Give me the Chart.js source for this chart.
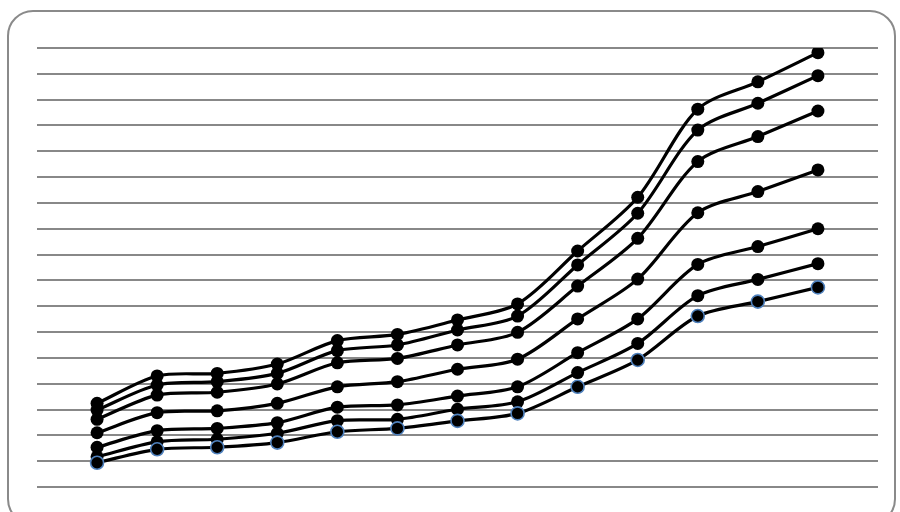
<!DOCTYPE html>
<html>
<head>
<meta charset="utf-8">
<script src="https://cdn.jsdelivr.net/npm/chart.js@4/dist/chart.umd.min.js"></script>
<style>
  html, body { margin: 0; padding: 0; background: #fff; overflow: hidden; }
  #wrap { position: relative; width: 900px; height: 512px; }
  #frame {
    position: absolute; left: 7px; top: 10px; width: 889px; height: 515px;
    border: 2px solid #8a8a8a; border-radius: 26px; box-sizing: border-box;
  }
  canvas { position: absolute; left: 0; top: 0; }
</style>
</head>
<body>
<div id="wrap">
  <div id="frame"></div>
  <canvas id="chart" width="900" height="512"></canvas>
</div>
<script>
// x positions (category slots 1..13 on a 0..14 axis)
const slots = [1, 2, 3, 4, 5, 6, 7, 8, 9, 10, 11, 12, 13];

// series, top to bottom
const s1 = [3.24, 4.30, 4.40, 4.76, 5.67, 5.91, 6.47, 7.09, 9.14, 11.22, 14.63, 15.69, 16.82];
const s2 = [2.98, 3.95, 4.08, 4.40, 5.28, 5.50, 6.08, 6.62, 8.60, 10.60, 13.82, 14.86, 15.93];
const s3 = [2.62, 3.56, 3.67, 3.99, 4.81, 4.98, 5.50, 5.99, 7.78, 9.63, 12.60, 13.57, 14.56];
const s4 = [2.10, 2.88, 2.95, 3.24, 3.88, 4.08, 4.56, 4.95, 6.51, 8.05, 10.62, 11.44, 12.28];
const s5 = [1.54, 2.18, 2.27, 2.49, 3.09, 3.18, 3.52, 3.88, 5.20, 6.51, 8.62, 9.31, 10.00];
const s6 = [1.17, 1.75, 1.85, 2.08, 2.57, 2.62, 3.01, 3.30, 4.43, 5.56, 7.41, 8.04, 8.65];
const s7 = [0.94, 1.46, 1.54, 1.72, 2.14, 2.27, 2.56, 2.85, 3.88, 4.92, 6.62, 7.18, 7.73];

const yMin = 0, yMax = 17;

function series(values, pointBorder) {
  return {
    data: values.map((v, i) => ({ x: slots[i], y: v })),
    borderColor: '#000',
    borderWidth: 3.2,
    backgroundColor: '#000',
    pointBackgroundColor: '#000',
    pointBorderColor: pointBorder,
    pointBorderWidth: pointBorder === '#000' ? 0 : 1.6,
    pointRadius: 6.5,
    tension: 0.3,
    fill: false,
  };
}

new Chart(document.getElementById('chart'), {
  type: 'line',
  data: {
    datasets: [
      series(s7, '#4f81bd'),
      series(s6, '#000'),
      series(s5, '#000'),
      series(s4, '#000'),
      series(s3, '#000'),
      series(s2, '#000'),
      series(s1, '#000'),
    ]
  },
  options: {
    responsive: false,
    animation: false,
    layout: { padding: { left: 37, top: 48, right: 22, bottom: 25 } },
    plugins: { legend: { display: false }, tooltip: { enabled: false } },
    scales: {
      x: { type: 'linear', min: 0, max: 14, display: false },
      y: {
        min: yMin, max: yMax,
        ticks: { display: false, stepSize: 1 },
        border: { display: false },
        grid: { color: '#888888', lineWidth: 2, drawTicks: false },
      }
    }
  }
});
</script>
</body>
</html>
